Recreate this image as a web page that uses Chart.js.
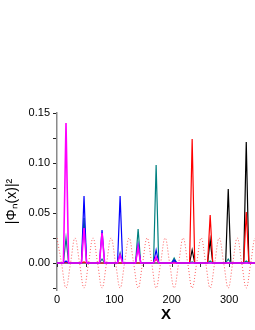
<!DOCTYPE html>
<html>
<head>
<meta charset="utf-8">
<script src="https://cdn.jsdelivr.net/npm/chart.js@4/dist/chart.umd.min.js"></script>
<style>
  html, body { margin:0; padding:0; background:#fff; overflow:hidden; width:255px; height:330px; }
  canvas { display:block; }
</style>
</head>
<body>
<canvas id="c" width="275" height="330"></canvas>
<script>
// Well centres (x)
const wellX = [15.7, 47.1, 78.5, 110.0, 141.4, 172.8, 204.2, 235.6, 267.0, 298.5, 329.9];
// Peak heights of |Phi_n(x)|^2 in each well, per state
const magentaPeaks = [0.140, 0.035, 0.030, 0.008, 0.016, 0.006, 0, 0, 0, 0, 0];
const bluePeaks    = [0.002, 0.067, 0.033, 0.067, 0.018, 0.013, 0.003, 0, 0, 0, 0];
const tealPeaks    = [0.025, 0.045, 0.004, 0.010, 0.034, 0.098, 0.005, 0.001, 0.002, 0.004, 0.002];
const redPeaks     = [0.001, 0.001, 0, 0, 0, 0.004, 0, 0.124, 0.048, 0, 0.051];
const blackPeaks   = [0, 0, 0, 0, 0, 0, 0.001, 0.013, 0.023, 0.074, 0.121];
// Dotted periodic potential, sampled at quarter periods
const potX = [0,7.85,15.7,23.6,31.4,39.3,47.1,55.0,62.8,70.7,78.5,86.4,94.2,102.1,110.0,117.8,125.7,133.5,141.4,149.2,157.1,165.0,172.8,180.6,188.5,196.3,204.2,212.1,219.9,227.8,235.6,243.5,251.3,259.2,267.0,274.9,282.7,290.6,298.5,306.3,314.2,322.0,329.9,337.7,345.6,353.4,361.3,369.1,377.0];
const potY = [0.025,0,-0.025,0,0.025,0,-0.025,0,0.025,0,-0.025,0,0.025,0,-0.025,0,0.025,0,-0.025,0,0.025,0,-0.025,0,0.025,0,-0.025,0,0.025,0,-0.025,0,0.025,0,-0.025,0,0.025,0,-0.025,0,0.025,0,-0.025,0,0.025,0,-0.025,0,0.025];
// Axis ticks
const xMin = 0, xMax = 380, xStep = 50, xLabelEvery = 100;
const yMin = -0.027, yMax = 0.15, yStep = 0.025, yLabelEvery = 0.05;

const HALF = 4.5;
function spikes(peaks) {
  const pts = [{x: 0, y: 0}];
  wellX.forEach((wx, i) => {
    pts.push({x: wx - HALF, y: 0});
    pts.push({x: wx, y: peaks[i]});
    pts.push({x: wx + HALF, y: 0});
  });
  pts.push({x: xMax, y: 0});
  return pts;
}
function ds(label, peaks, color, w, order) {
  return { label, order, data: spikes(peaks), borderColor: color, borderWidth: w, pointRadius: 0, tension: 0, fill: false };
}

const tickMarksAtZero = {
  id: 'tickMarksAtZero',
  afterDatasetsDraw(chart) {
    const xs = chart.scales.x, ys = chart.scales.y;
    const y0 = ys.getPixelForValue(0);
    const ctx = chart.ctx;
    ctx.save();
    ctx.strokeStyle = '#333';
    ctx.lineWidth = 1;
    xs.ticks.forEach(t => {
      const px = Math.round(xs.getPixelForValue(t.value)) + 0.5;
      ctx.beginPath();
      ctx.moveTo(px, y0 + 1);
      ctx.lineTo(px, y0 + 4);
      ctx.stroke();
    });
    ctx.restore();
  }
};

const FONT = 'Liberation Sans, Arial, sans-serif';
new Chart(document.getElementById('c'), {
  type: 'line',
  data: {
    datasets: [
      ds('magenta', magentaPeaks, '#ff00ff', 1.6, 0),
      ds('blue', bluePeaks, '#0000ff', 1.2, 1),
      ds('teal', tealPeaks, '#008080', 1.2, 2),
      ds('red', redPeaks, '#ff0000', 1.2, 3),
      ds('black', blackPeaks, '#000000', 1.2, 4),
      { label: 'V', order: 5, data: potX.map((x, i) => ({x, y: potY[i]})), borderColor: 'rgba(255,40,40,0.75)', borderWidth: 1, borderDash: [1, 2], pointRadius: 0, tension: 0.4, fill: false }
    ]
  },
  options: {
    responsive: false,
    animation: false,
    layout: { padding: { top: 113, left: 0, right: 0, bottom: 0 } },
    plugins: { legend: { display: false }, tooltip: { enabled: false } },
    scales: {
      x: {
        type: 'linear', min: xMin, max: xMax,
        afterFit: s => { s.height = 40; },
        border: { display: false },
        grid: { display: false, drawTicks: false },
        ticks: {
          stepSize: xStep, autoSkip: false, includeBounds: false, maxRotation: 0,
          padding: 3, color: '#000',
          font: { family: FONT, size: 11 },
          callback: v => (Math.abs(v % xLabelEvery) < 1e-9 ? String(v) : '')
        },
        title: { display: true, text: 'X', color: '#000', padding: { top: 0, bottom: 6 },
          font: { family: FONT, size: 15, weight: 'bold' } }
      },
      y: {
        type: 'linear', min: yMin, max: yMax,
        afterFit: s => { s.width = 57; },
        border: { display: true, color: '#8a8a8a', width: 1.5 },
        grid: { drawOnChartArea: false, drawTicks: true, tickLength: 4, color: '#222', tickWidth: 1 },
        ticks: {
          stepSize: yStep, includeBounds: false, autoSkip: false, padding: 3, color: '#000',
          font: { family: FONT, size: 11 },
          callback: v => { const r = v / yLabelEvery; return Math.abs(r - Math.round(r)) < 1e-6 ? (Math.abs(v) < 1e-9 ? 0 : v).toFixed(2) : ''; }
        },
        title: { display: true, text: '|Φₙ(x)|²', color: '#000', padding: { top: 4, bottom: 0 },
          font: { family: FONT, size: 14 } }
      }
    }
  },
  plugins: [tickMarksAtZero]
});
</script>
</body>
</html>
